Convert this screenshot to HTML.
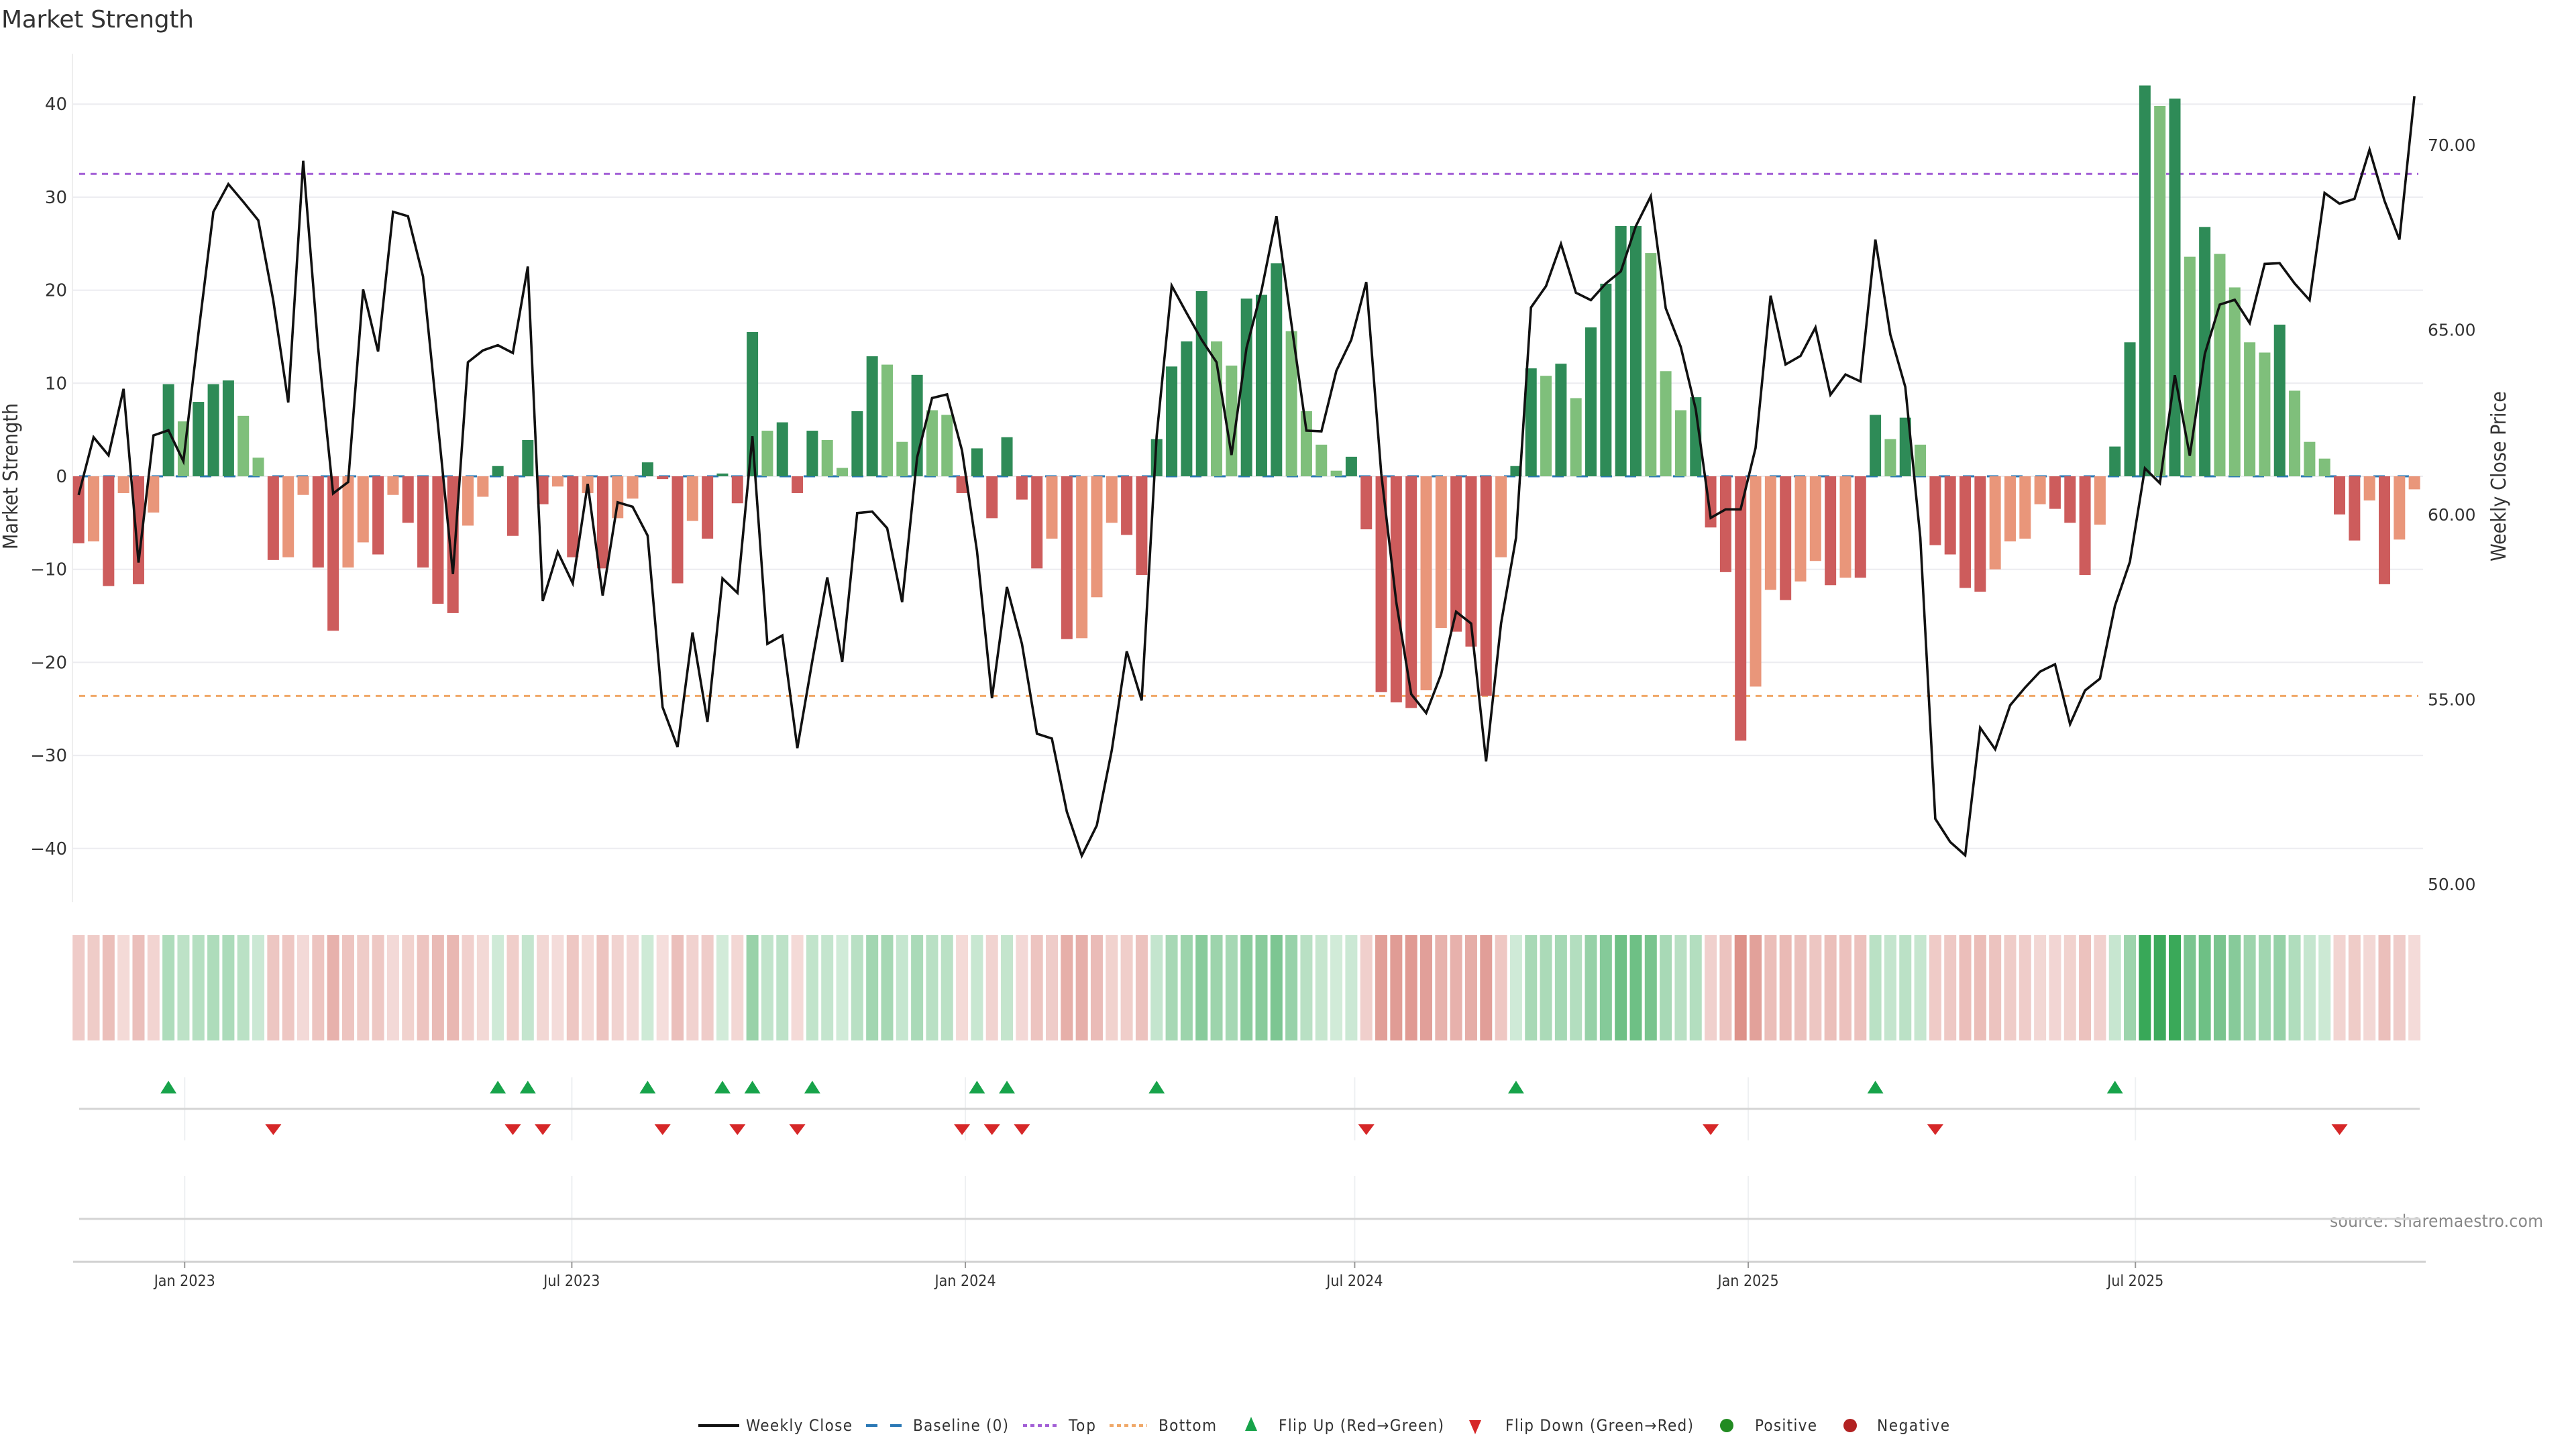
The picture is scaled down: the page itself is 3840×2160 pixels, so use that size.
<!DOCTYPE html>
<html><head><meta charset="utf-8"><title>Market Strength</title>
<style>
html,body{margin:0;padding:0;background:#fff;}
svg{display:block;}
text{font-family:"DejaVu Sans","Liberation Sans",sans-serif;}
.cond{font-family:"DejaVu Sans Condensed","DejaVu Sans","Liberation Sans Narrow",sans-serif;}
</style></head>
<body>
<svg id="chart" xmlns="http://www.w3.org/2000/svg" width="3840" height="2160" viewBox="0 0 3840 2160">
  <text x="2" y="41" font-size="36" fill="#333" textLength="287">Market Strength</text>
  <text class="cond" transform="translate(26,710) rotate(-90)" text-anchor="middle" font-size="30" fill="#333">Market Strength</text>
  <text class="cond" transform="translate(3735,710) rotate(-90)" text-anchor="middle" font-size="30" fill="#333">Weekly Close Price</text>
  <text class="cond" x="3473" y="1829" font-size="26" fill="#888" textLength="318">source: sharemaestro.com</text>
  <g id="grid"></g><g id="refs"></g><g id="bars"></g><g id="priceg"></g><g id="heat"></g><g id="flips"></g><g id="xaxis"></g><g id="legend"></g>
</svg>
<script>
// ---- data ----
const strength = [-7.2,-7,-11.8,-1.8,-11.6,-3.9,9.9,5.9,8,9.9,10.3,6.5,2,-9,-8.7,-2,-9.8,-16.6,-9.8,-7.1,
-8.4,-2,-5,-9.8,-13.7,-14.7,-5.3,-2.2,1.1,-6.4,3.9,-3,-1.1,-8.7,-1.8,-9.9,-4.5,-2.4,1.5,-0.3,
-11.5,-4.8,-6.7,0.3,-2.9,15.5,4.9,5.8,-1.8,4.9,3.9,0.9,7,12.9,12,3.7,10.9,7.1,6.6,-1.8,
3,-4.5,4.2,-2.5,-9.9,-6.7,-17.5,-17.4,-13,-5,-6.3,-10.6,4,11.8,14.5,19.9,14.5,11.9,19.1,19.5,
22.9,15.6,7,3.4,0.6,2.1,-5.7,-23.2,-24.3,-24.9,-23,-16.3,-16.7,-18.3,-23.6,-8.7,1.1,11.6,10.8,12.1,
8.4,16,20.7,26.9,26.9,24,11.3,7.1,8.5,-5.5,-10.3,-28.4,-22.6,-12.2,-13.3,-11.3,-9.1,-11.7,-10.9,-10.9,
6.6,4,6.3,3.4,-7.4,-8.4,-12,-12.4,-10,-7,-6.7,-3,-3.5,-5,-10.6,-5.2,3.2,14.4,42,39.8,
40.6,23.6,26.8,23.9,20.3,14.4,13.3,16.3,9.2,3.7,1.9,-4.1,-6.9,-2.6,-11.6,-6.8,-1.4];
const weeklyClose = [60.53,62.09,61.6,63.4,58.7,62.14,62.28,61.44,64.9,68.19,68.94,68.46,67.96,65.79,63.03,69.57,64.51,60.57,60.88,66.09,
64.41,68.19,68.07,66.44,62.43,58.39,64.12,64.44,64.58,64.37,66.71,57.66,58.99,58.14,60.83,57.81,60.33,60.21,59.43,54.79,
53.71,56.81,54.39,58.27,57.88,62.12,56.5,56.73,53.68,56.04,58.3,56.01,60.04,60.08,59.63,57.63,61.54,63.15,63.25,61.73,
59.01,55.03,58.04,56.5,54.07,53.94,51.96,50.77,51.59,53.62,56.3,54.97,62.12,66.19,65.45,64.73,64.12,61.61,64.51,66.06,
68.07,65.16,62.27,62.25,63.89,64.73,66.29,61.11,57.63,55.14,54.63,55.68,57.37,57.05,53.32,57.05,59.37,65.6,66.18,67.32,
66.0,65.8,66.25,66.58,67.8,68.61,65.58,64.54,62.85,59.91,60.14,60.14,61.8,65.92,64.06,64.29,65.06,63.24,63.79,63.6,
67.44,64.87,63.45,59.37,51.77,51.14,50.78,54.23,53.65,54.84,55.32,55.75,55.95,54.33,55.24,55.56,57.53,58.72,61.25,60.85,
63.77,61.59,64.34,65.68,65.81,65.18,66.78,66.8,66.25,65.8,68.7,68.41,68.54,69.87,68.49,67.44,71.32];
const startDate = "2022-11-14";
const leftTicks = [-40,-30,-20,-10,0,10,20,30,40];
const rightTicks = [50,55,60,65,70];
const xTickDates = ["2023-01-01","2023-07-01","2024-01-01","2024-07-01","2025-01-01","2025-07-01"];
const xTickLabels = ["Jan 2023","Jul 2023","Jan 2024","Jul 2024","Jan 2025","Jul 2025"];
const topLevel = 32.5;
const bottomLevel = -23.6;

// ---- scales ----
const NS="http://www.w3.org/2000/svg";
const X0=117.2, STEP=22.32, PL=108, PR=3612;
function xIdx(i){return X0+STEP*i;}
function xDate(d){const days=(new Date(d+"T00:00:00Z")-new Date(startDate+"T00:00:00Z"))/86400000;return X0+5+days/7*STEP;}
function yL(v){return 710-v*13.87;}
function yR(p){return 1318-(p-50)*55.1;}
function mk(tag,attrs,parent){const e=document.createElementNS(NS,tag);for(const k in attrs)e.setAttribute(k,attrs[k]);parent.appendChild(e);return e;}
const g=id=>document.getElementById(id);

// grid + left ticks
leftTicks.forEach(t=>{
  const l=mk('line',{x1:PL,x2:PR,y1:yL(t),y2:yL(t),stroke:'#ececf0','stroke-width':2},g('grid'));
  
  
  const tx=mk('text',{x:100,y:yL(t)+9,'text-anchor':'end','font-size':26,fill:'#333'},g('grid'));
  tx.textContent=(t<0?'\u2212'+Math.abs(t):String(t));
  
  
});
rightTicks.forEach(t=>{
  const tx=mk('text',{x:3619,y:yR(t)+9,'font-size':25,fill:'#333'},g('grid'));
  tx.textContent=t.toFixed(2);
  
  
});
const ax=mk('line',{x1:PL,x2:PL,y1:80,y2:1345,stroke:'#eeeeee','stroke-width':2},g('grid'));



// reference lines
const topL=mk('line',{x1:118,x2:3605,y1:yL(topLevel),y2:yL(topLevel),stroke:'#a25ed6','stroke-width':3,'stroke-dasharray':'9 8'},g('refs'));


const botL=mk('line',{x1:118,x2:3605,y1:yL(bottomLevel),y2:yL(bottomLevel),stroke:'#f0a868','stroke-width':3,'stroke-dasharray':'9 8'},g('refs'));



// bars
const BW=17;
strength.forEach((v,i)=>{
  const prev=i>0?strength[i-1]:0;
  let fill;
  if(v>=0){fill=(i===0||v>=prev||prev<0)?'#2e8b57':'#7fbf7b';}
  else{fill=(i===0||v<=prev||prev>0)?'#cd5c5c':'#e9967a';}
  const y=Math.min(yL(0),yL(v)),h=Math.abs(yL(v)-yL(0));
  const r=mk('rect',{x:xIdx(i)-BW/2,y:y,width:BW,height:Math.max(h,0.5),fill:fill},g('bars'));
  
  
});
// baseline
const base=mk('line',{x1:118,x2:3605,y1:yL(0),y2:yL(0),stroke:'#2a78b5','stroke-width':3,'stroke-dasharray':'17 19'},g('refs'));



// price line
const pts=weeklyClose.map((p,i)=>xIdx(i).toFixed(1)+','+yR(p).toFixed(1)).join(' ');
const pl=mk('polyline',{points:pts,fill:'none',stroke:'#111','stroke-width':3.6,'stroke-linejoin':'miter'},g('priceg'));



// heat strip
strength.forEach((v,i)=>{
  const a=Math.min(1,0.22+0.019*Math.abs(v));
  const c=v>=0?`rgba(56,168,88,${a})`:`rgba(210,110,100,${a})`;
  const r=mk('rect',{x:xIdx(i)-9,y:1394,width:18,height:157,fill:c},g('heat'));
  
  
});

// flip marker panels
[[1606,1700],[1753,1881]].forEach(([a,b])=>{
  xTickDates.forEach(d=>{
    const l=mk('line',{x1:xDate(d),x2:xDate(d),y1:a,y2:b,stroke:'#eef0f2','stroke-width':2},g('flips'));
    
    
  });
});
const sep=mk('line',{x1:118,x2:3607,y1:1653,y2:1653,stroke:'#d4d4d4','stroke-width':3},g('flips'));


const sep2=mk('line',{x1:118,x2:3607,y1:1817,y2:1817,stroke:'#d4d4d4','stroke-width':3},g('flips'));


strength.forEach((v,i)=>{
  if(i===0)return;
  const p=strength[i-1],x=xIdx(i);
  if(v>0&&p<=0){
    const t=mk('polygon',{points:`${x-12},1630 ${x+12},1630 ${x},1611`,fill:'#17a34a'},g('flips'));
    
    
  } else if(v<0&&p>=0){
    const t=mk('polygon',{points:`${x-12},1676 ${x+12},1676 ${x},1692`,fill:'#d62728'},g('flips'));
    
    
  }
});

// x axis
const xl=mk('line',{x1:109,x2:3616,y1:1881,y2:1881,stroke:'#d0d0d0','stroke-width':3},g('xaxis'));


xTickDates.forEach((d,k)=>{
  const x=xDate(d);
  const tk=mk('line',{x1:x,x2:x,y1:1881,y2:1890,stroke:'#999','stroke-width':2},g('xaxis'));
  
  
  const t=mk('text',{x:x,y:1917,'text-anchor':'middle','font-size':23,fill:'#333',class:'cond'},g('xaxis'));
  t.textContent=xTickLabels[k];
  
  
});

// legend
const L=g('legend'), LY=2125;
function ltext(x,s,w,name){const t=mk('text',{x:x,y:LY+8,'font-size':24,fill:'#333',class:'cond',textLength:w},L);t.textContent=s;}
let e;
e=mk('line',{x1:1041,x2:1102,y1:LY,y2:LY,stroke:'#111','stroke-width':4},L);
ltext(1112,'Weekly Close',158,'legend-weekly-close');
e=mk('line',{x1:1291,x2:1344,y1:LY,y2:LY,stroke:'#2a78b5','stroke-width':4,'stroke-dasharray':'17 19'},L);
ltext(1361,'Baseline (0)',142,'legend-baseline');
e=mk('line',{x1:1525,x2:1580,y1:LY,y2:LY,stroke:'#a25ed6','stroke-width':4,'stroke-dasharray':'6 5'},L);
ltext(1593,'Top',40,'legend-top');
e=mk('line',{x1:1654,x2:1710,y1:LY,y2:LY,stroke:'#f0a868','stroke-width':4,'stroke-dasharray':'6 5'},L);
ltext(1727,'Bottom',86,'legend-bottom');
e=mk('polygon',{points:'1856,2133 1874,2133 1865,2112',fill:'#17a34a'},L);
ltext(1906,'Flip Up (Red\u2192Green)',246,'legend-flip-up');
e=mk('polygon',{points:'2190,2117 2208,2117 2199,2138',fill:'#d62728'},L);
ltext(2244,'Flip Down (Green\u2192Red)',280,'legend-flip-down');
e=mk('circle',{cx:2574,cy:LY,r:10,fill:'#228b22'},L);
ltext(2616,'Positive',92,'legend-positive');
e=mk('circle',{cx:2758,cy:LY,r:10,fill:'#b22222'},L);
ltext(2798,'Negative',108,'legend-negative');
</script>
</body></html>
